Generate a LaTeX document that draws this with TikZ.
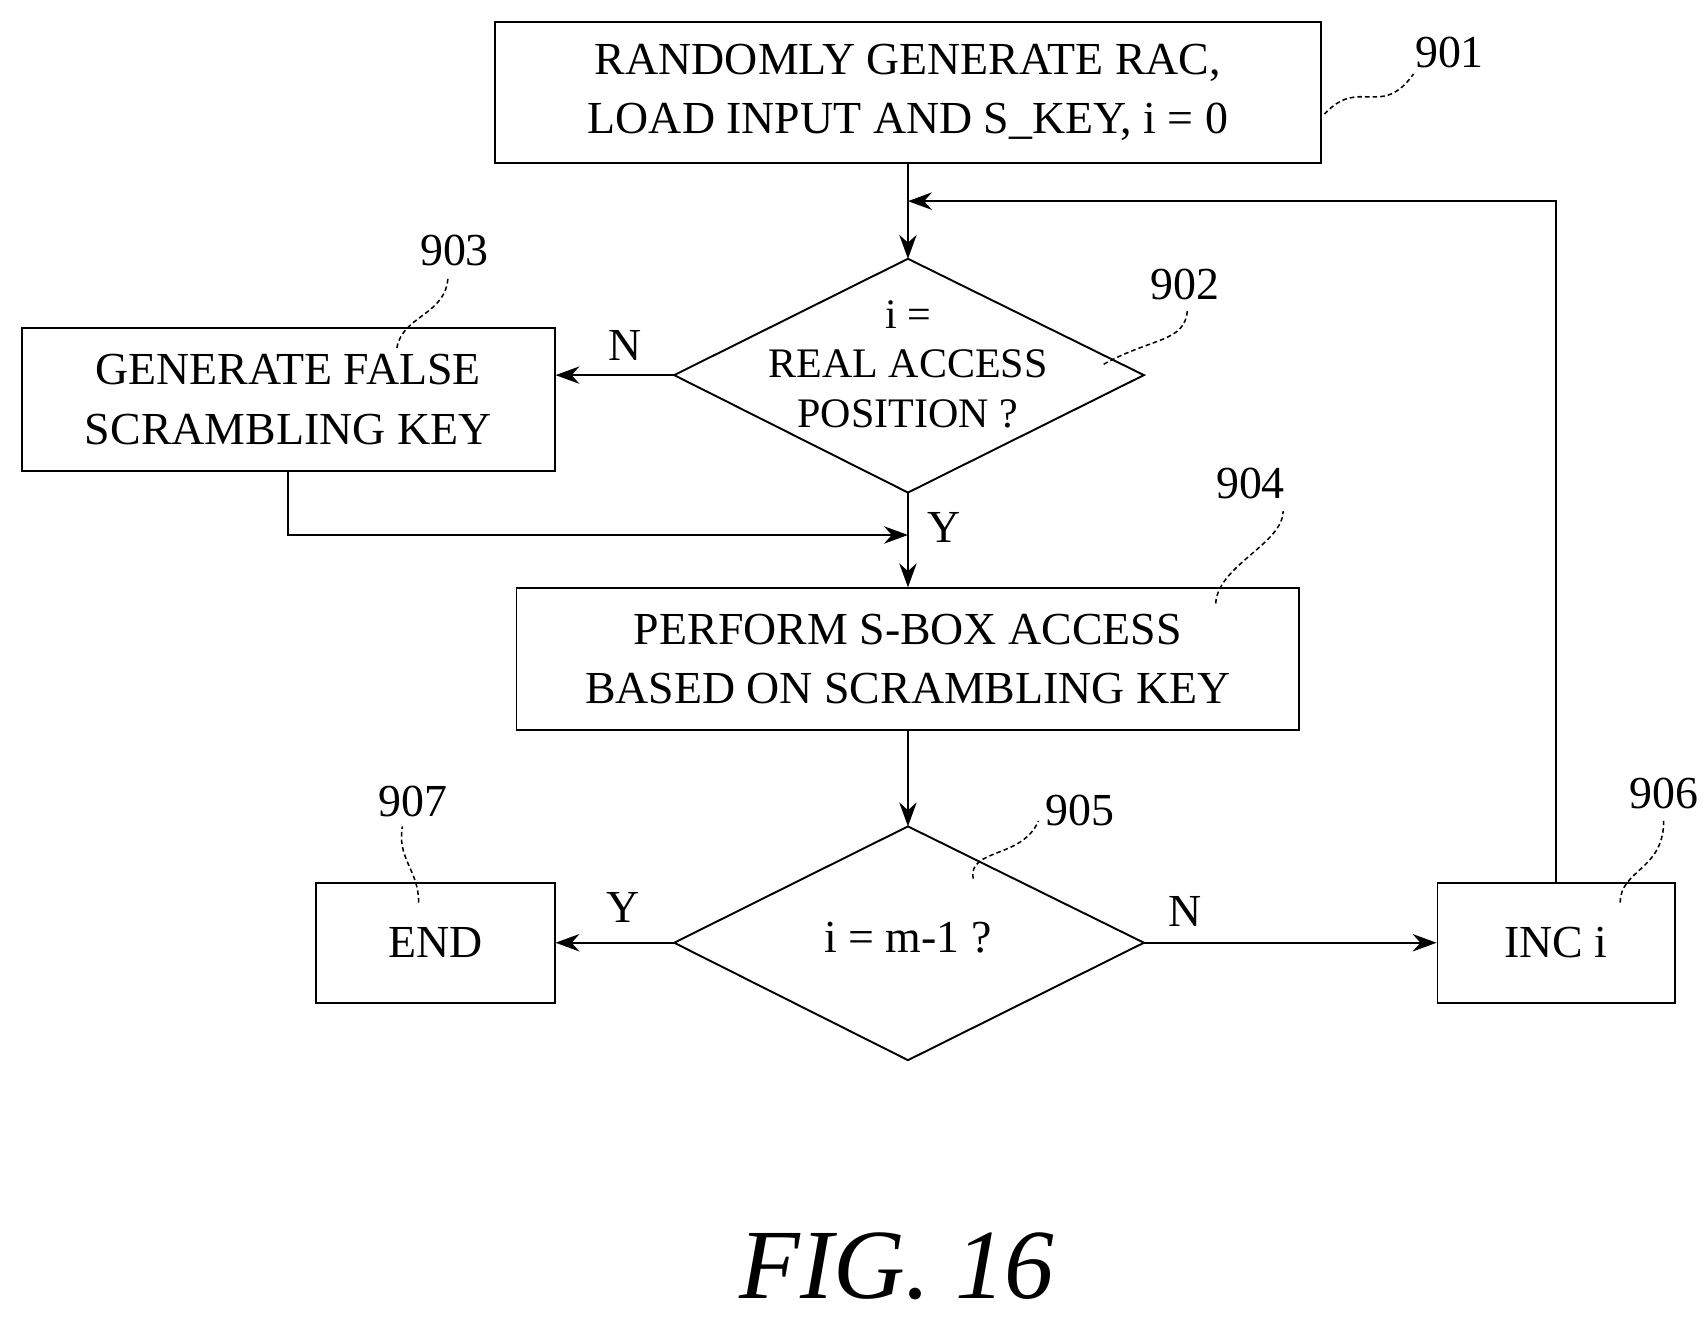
\documentclass[tikz,border=0pt]{standalone}
\usepackage{fontspec}
\setmainfont{Liberation Serif}
\usetikzlibrary{arrows.meta}
\begin{document}
\begin{tikzpicture}[x=0.1mm,y=-0.1mm,
  box/.style={draw,line width=0.5pt,inner sep=0pt,align=center,font=\fontsize{12}{15.5}\selectfont},
  dia/.style={draw,line width=0.5pt},
  lbl/.style={font=\fontsize{12}{13}\selectfont},
  arr/.style={line width=0.5pt,-{Stealth[length=2.2mm,width=1.6mm]}},
  sq/.style={line width=0.4pt,dash pattern=on 1.2pt off 0.8pt}]
\useasboundingbox (0,0) rectangle (1568,1218);
% boxes
\node[box,minimum width=76mm,minimum height=13mm] (b901) at (835,85) {RANDOMLY GENERATE RAC,\\LOAD INPUT AND S\_KEY, i = 0};
\node[box,minimum width=49mm,minimum height=13.1mm] (b903) at (265,367.5) {GENERATE FALSE\\SCRAMBLING KEY};
\node[box,minimum width=72mm,minimum height=13mm] (b904) at (835,606) {PERFORM S-BOX ACCESS\\BASED ON SCRAMBLING KEY};
\node[box,minimum width=21.9mm,minimum height=11mm] (b907) at (400.5,867) {END};
\node[box,minimum width=21.8mm,minimum height=11mm] (b906) at (1431,867) {INC i};
% diamonds
\coordinate (d2t) at (835,238); \coordinate (d2b) at (835,453);
\coordinate (d2l) at (620,345); \coordinate (d2r) at (1052,345);
\draw[dia] (d2t) -- (d2r) -- (d2b) -- (d2l) -- cycle;
\node[lbl,align=center,font=\fontsize{11}{13}\selectfont] (t902) at (835,335) {i =\\REAL ACCESS\\POSITION ?};
\coordinate (d5t) at (835,760); \coordinate (d5b) at (835,975);
\coordinate (d5l) at (620,867); \coordinate (d5r) at (1052,867);
\draw[dia] (d5t) -- (d5r) -- (d5b) -- (d5l) -- cycle;
\node[lbl] (t905) at (835,862) {i = m-1 ?};
% connectors
\draw[arr] (b901.south) -- (d2t);
\draw[arr] (d2l) -- (d2l -| b903.east);
\coordinate (j1) at (835,492);
\draw[arr] (b903.south) |- (j1);
\draw[arr] (d2b) -- (b904.north);
\draw[arr] (b904.south) -- (d5t);
\draw[arr] (d5l) -- (b907.east);
\draw[arr] (d5r) -- (b906.west);
\coordinate (j2) at (835,185);
\draw[arr] (b906.north) |- (j2);
% Y/N labels
\node[lbl] (n1) at (575,318) {N};
\node[lbl] (y1) at (868,485) {Y};
\node[lbl] (y2) at (573,835) {Y};
\node[lbl] (n2) at (1090,838) {N};
% reference numbers
\node[lbl] (r901) at (1333,48) {901};
\node[lbl] (r902) at (1090,262) {902};
\node[lbl] (r903) at (418,230) {903};
\node[lbl] (r904) at (1150,445) {904};
\node[lbl] (r905) at (993,745) {905};
\node[lbl] (r906) at (1530,730) {906};
\node[lbl] (r907) at (380,737) {907};
\draw[sq] (1218,105) .. controls (1250,70) and (1270,110) .. (1300,68);
\draw[sq] (1015,335) .. controls (1060,310) and (1090,315) .. (1092,285);
\draw[sq] (365,320) .. controls (370,290) and (410,290) .. (412,255);
\draw[sq] (1118,555) .. controls (1120,520) and (1180,500) .. (1180,470);
\draw[sq] (895,808) .. controls (890,780) and (940,790) .. (955,755);
\draw[sq] (1490,830) .. controls (1490,800) and (1530,800) .. (1530,755);
\draw[sq] (385,830) .. controls (385,800) and (365,790) .. (370,760);
\node[font=\fontsize{26}{30}\selectfont\itshape] (fig) at (825,1165) {FIG. 16};
\end{tikzpicture}
\end{document}
